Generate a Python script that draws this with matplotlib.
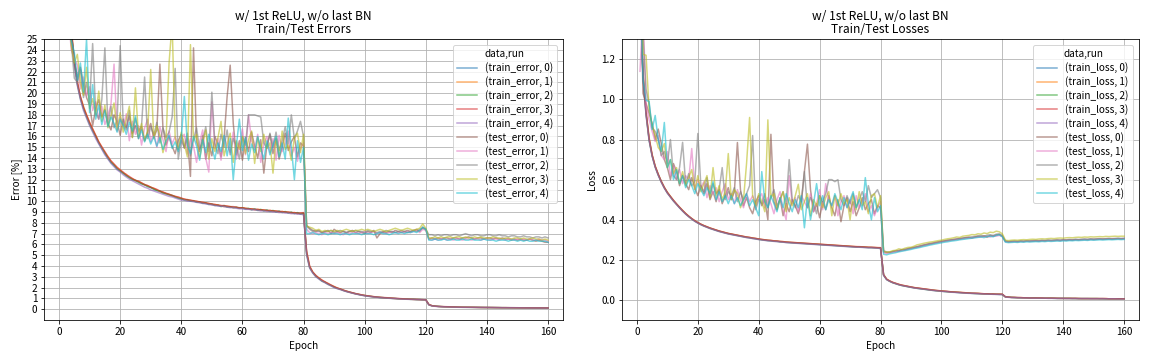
import numpy as np
import matplotlib
matplotlib.use("Agg")
import matplotlib.pyplot as plt

plt.rcParams["font.family"] = ["Noto Sans CJK JP", "DejaVu Sans"]

# ─── data (epochs 1..160) ───────────────────────────────────────────────────
epochs = np.arange(1, 161)
run_ids = [0, 1, 2, 3, 4]

train_error_0 = """
55.0 38.5 30.5 25.8 22.8 20.9 19.6 18.6 17.9 17.2
16.6 16.0 15.4 14.9 14.4 14.0 13.6 13.3 13.0 12.8
12.6 12.4 12.2 12.05 11.9 11.8 11.65 11.5 11.4 11.25
11.15 11.0 10.9 10.8 10.7 10.6 10.5 10.4 10.3 10.2
10.15 10.1 10.05 10.0 9.95 9.9 9.85 9.8 9.75 9.7
9.65 9.6 9.55 9.55 9.5 9.45 9.45 9.4 9.4 9.35
9.3 9.3 9.25 9.25 9.2 9.2 9.15 9.15 9.1 9.1
9.05 9.05 9.0 9.0 8.95 8.95 8.9 8.9 8.85 8.85
5.2 3.9 3.4 3.1 2.85 2.65 2.5 2.35 2.2 2.05
1.95 1.85 1.75 1.65 1.58 1.5 1.43 1.37 1.31 1.26
1.22 1.18 1.15 1.12 1.09 1.07 1.05 1.03 1.01 0.99
0.97 0.96 0.95 0.93 0.92 0.91 0.9 0.89 0.88 0.87
0.42 0.32 0.28 0.26 0.24 0.23 0.22 0.21 0.2 0.2
0.19 0.19 0.18 0.18 0.18 0.17 0.17 0.17 0.16 0.16
0.16 0.15 0.15 0.15 0.15 0.14 0.14 0.14 0.14 0.13
0.13 0.13 0.13 0.13 0.12 0.12 0.12 0.12 0.12 0.12
"""
train_error_1 = """
56.2 38.9 30.8 26.1 23.0 21.1 19.7 18.8 18.0 17.3
16.7 16.1 15.5 15.0 14.5 14.1 13.7 13.4 13.1 12.9
12.6 12.5 12.2 12.1 11.9 11.85 11.7 11.5 11.45 11.3
11.2 11.05 10.9 10.85 10.7 10.65 10.5 10.45 10.35 10.25
10.2 10.1 10.1 10.0 10.0 9.9 9.9 9.85 9.8 9.7
9.7 9.65 9.6 9.5 9.55 9.5 9.4 9.45 9.35 9.4
9.35 9.3 9.3 9.2 9.25 9.2 9.2 9.1 9.15 9.1
9.1 9.0 9.05 9.0 9.0 8.9 8.95 8.85 8.9 8.85
5.3 3.95 3.45 3.1 2.9 2.7 2.5 2.4 2.2 2.1
1.95 1.88 1.76 1.68 1.58 1.52 1.44 1.38 1.32 1.27
1.24 1.18 1.16 1.12 1.1 1.06 1.06 1.02 1.02 0.98
0.98 0.95 0.96 0.93 0.93 0.9 0.91 0.88 0.89 0.86
0.43 0.33 0.28 0.26 0.25 0.23 0.22 0.21 0.21 0.2
0.19 0.19 0.19 0.18 0.18 0.17 0.17 0.16 0.16 0.16
0.16 0.15 0.15 0.15 0.14 0.15 0.14 0.14 0.13 0.13
0.13 0.13 0.12 0.13 0.12 0.12 0.12 0.12 0.11 0.12
"""
train_error_2 = """
54.5 38.2 30.3 25.7 22.9 20.8 19.5 18.6 17.8 17.1
16.5 16.0 15.4 14.9 14.5 14.0 13.6 13.35 13.0 12.8
12.6 12.35 12.2 12.0 11.95 11.75 11.6 11.55 11.35 11.3
11.1 11.0 10.95 10.75 10.7 10.6 10.55 10.4 10.3 10.25
10.1 10.15 10.0 10.05 9.9 9.95 9.8 9.85 9.7 9.75
9.6 9.65 9.5 9.6 9.45 9.5 9.4 9.45 9.35 9.4
9.3 9.35 9.2 9.3 9.15 9.25 9.1 9.2 9.05 9.15
9.0 9.1 8.95 9.05 8.9 9.0 8.85 8.95 8.8 8.9
5.1 3.85 3.4 3.05 2.85 2.6 2.5 2.3 2.2 2.05
1.93 1.86 1.74 1.66 1.57 1.51 1.42 1.37 1.3 1.27
1.21 1.19 1.14 1.12 1.08 1.08 1.04 1.03 1.0 1.0
0.96 0.97 0.94 0.94 0.91 0.92 0.89 0.9 0.87 0.88
0.41 0.32 0.29 0.25 0.24 0.23 0.21 0.21 0.2 0.19
0.19 0.18 0.18 0.18 0.17 0.17 0.17 0.16 0.16 0.16
0.15 0.15 0.15 0.15 0.14 0.14 0.14 0.14 0.13 0.13
0.13 0.13 0.13 0.12 0.12 0.12 0.12 0.12 0.12 0.11
"""
train_error_3 = """
55.5 38.7 30.6 26.0 23.0 21.0 19.7 18.7 18.0 17.3
16.7 16.1 15.5 15.05 14.6 14.15 13.75 13.45 13.15 12.9
12.7 12.45 12.3 12.1 11.95 11.85 11.7 11.55 11.45 11.3
11.2 11.1 10.95 10.85 10.75 10.65 10.55 10.45 10.4 10.3
10.2 10.15 10.1 10.05 10.0 9.95 9.9 9.85 9.8 9.75
9.7 9.65 9.6 9.6 9.55 9.5 9.5 9.45 9.4 9.4
9.35 9.3 9.3 9.25 9.25 9.2 9.2 9.15 9.15 9.1
9.1 9.05 9.05 9.0 9.0 8.95 8.95 8.9 8.9 8.95
5.4 4.0 3.45 3.15 2.9 2.7 2.55 2.38 2.25 2.1
1.98 1.88 1.78 1.68 1.6 1.53 1.45 1.39 1.33 1.28
1.24 1.2 1.17 1.13 1.11 1.08 1.06 1.04 1.02 1.0
0.99 0.97 0.96 0.94 0.93 0.92 0.91 0.9 0.89 0.88
0.44 0.33 0.29 0.26 0.25 0.23 0.22 0.22 0.21 0.2
0.2 0.19 0.19 0.18 0.18 0.18 0.17 0.17 0.17 0.16
0.16 0.16 0.15 0.15 0.15 0.15 0.14 0.14 0.14 0.14
0.13 0.13 0.13 0.13 0.13 0.12 0.12 0.12 0.12 0.12
"""
train_error_4 = """
54.8 38.0 30.1 25.5 22.6 20.7 19.4 18.4 17.7 17.0
16.4 15.8 15.3 14.8 14.3 13.9 13.5 13.2 12.9 12.7
12.45 12.25 12.05 11.9 11.75 11.6 11.45 11.3 11.2 11.05
10.95 10.85 10.75 10.65 10.55 10.45 10.4 10.3 10.2 10.1
10.1 10.0 10.0 9.95 9.9 9.85 9.8 9.75 9.7 9.65
9.6 9.55 9.55 9.5 9.45 9.4 9.4 9.35 9.3 9.3
9.25 9.25 9.2 9.2 9.15 9.1 9.1 9.05 9.05 9.0
9.0 8.95 8.95 8.9 8.9 8.85 8.85 8.8 8.8 8.75
5.0 3.8 3.35 3.0 2.8 2.6 2.45 2.3 2.15 2.0
1.9 1.82 1.72 1.63 1.55 1.48 1.41 1.35 1.29 1.24
1.2 1.16 1.13 1.1 1.08 1.05 1.03 1.01 0.99 0.98
0.96 0.94 0.93 0.92 0.9 0.89 0.88 0.87 0.87 0.86
0.4 0.31 0.27 0.25 0.23 0.22 0.21 0.2 0.2 0.19
0.18 0.18 0.18 0.17 0.17 0.17 0.16 0.16 0.16 0.15
0.15 0.15 0.15 0.14 0.14 0.14 0.14 0.13 0.13 0.13
0.13 0.12 0.12 0.12 0.12 0.12 0.11 0.11 0.11 0.11
"""

test_error_0 = """
46.0 34.5 28.0 25.5 23.0 21.5 22.4 20.8 19.6 18.9
17.0 18.6 19.4 17.8 18.5 17.2 16.6 18.0 17.4 16.1
17.6 16.8 17.9 16.3 17.0 15.8 16.9 15.6 16.4 17.2
15.9 16.6 22.7 16.8 15.2 16.0 15.1 14.4 15.6 16.2
14.9 15.8 12.3 24.2 15.5 14.6 16.1 13.9 15.4 14.2
16.0 15.3 14.1 15.8 19.7 22.6 17.2 14.3 15.6 13.8
15.9 14.6 16.4 15.1 14.0 15.7 12.6 15.2 16.2 14.4
15.8 13.9 15.0 16.3 14.7 15.5 16.0 14.1 15.4 15.1
7.7 7.5 7.3 7.2 7.3 7.1 7.2 7.3 7.0 7.4
7.2 7.1 7.2 7.1 7.2 7.3 7.1 7.2 7.1 7.0
7.2 7.1 7.3 6.6 7.0 7.2 7.1 7.2 7.1 7.3
7.2 7.1 7.2 7.3 7.2 7.3 7.4 7.2 7.6 7.4
6.5 6.6 6.5 6.6 6.5 6.6 6.6 6.5 6.6 6.6
6.5 6.6 6.6 6.7 6.6 6.5 6.6 6.6 6.5 6.6
6.6 6.5 6.6 6.5 6.6 6.5 6.5 6.4 6.5 6.4
6.5 6.4 6.4 6.5 6.4 6.3 6.4 6.3 6.2 6.2
"""
test_error_1 = """
44.0 33.0 27.5 24.0 23.2 22.6 20.4 21.5 19.8 20.6
18.4 19.2 17.6 18.8 17.1 17.9 19.0 22.7 16.5 17.8
16.9 18.1 15.6 17.4 16.2 17.0 15.2 16.8 17.6 15.5
16.4 15.0 16.9 15.7 14.6 16.5 15.3 16.0 14.8 15.9
16.2 14.4 15.8 15.1 13.6 15.5 16.6 14.0 12.7 19.2
14.9 15.8 13.8 16.0 15.2 14.5 16.4 13.9 15.1 16.7
14.3 18.0 15.6 14.8 16.2 13.6 15.3 16.0 14.5 15.8
13.8 16.1 14.6 15.3 16.5 14.2 15.0 13.7 14.9 15.4
7.4 7.1 7.0 7.1 7.0 6.9 7.1 7.0 7.1 7.0
7.1 7.0 6.9 7.1 7.0 7.1 7.1 7.0 7.1 7.2
7.0 7.1 7.2 7.0 7.1 7.1 7.0 7.1 7.2 7.1
7.1 7.2 7.1 7.2 7.1 7.2 7.3 7.1 7.4 7.3
6.5 6.4 6.5 6.4 6.5 6.5 6.4 6.5 6.4 6.5
6.5 6.4 6.5 6.5 6.4 6.5 6.5 6.4 6.5 6.5
6.4 6.5 6.5 6.4 6.5 6.4 6.5 6.5 6.4 6.5
6.4 6.5 6.4 6.5 6.4 6.4 6.5 6.4 6.4 6.3
"""
test_error_2 = """
47.0 35.0 29.0 24.8 21.4 21.0 22.2 19.6 21.0 19.0
24.6 18.2 17.6 19.4 24.2 17.0 18.8 16.8 17.5 24.4
17.2 16.6 18.4 15.9 17.7 16.5 17.0 21.5 15.8 16.9
16.1 17.3 15.4 16.8 15.9 16.4 17.8 22.3 13.9 15.6
15.0 16.3 14.2 15.7 16.8 14.8 15.5 16.9 14.6 20.1
15.3 14.4 16.2 15.0 16.6 14.3 15.8 15.1 13.9 16.0
15.2 18.0 18.0 18.0 17.9 17.8 15.4 14.9 16.3 15.0
16.4 14.7 15.6 16.9 15.3 18.0 15.8 16.5 17.4 16.0
7.8 7.4 7.2 7.3 7.2 7.1 7.2 7.2 7.3 7.1
7.2 7.3 7.2 7.1 7.2 7.2 7.3 7.2 7.2 7.1
7.3 7.2 7.2 7.1 7.2 7.1 7.3 7.2 7.2 7.1
7.2 7.3 7.2 7.1 7.2 7.3 7.2 7.4 7.5 7.4
6.9 6.9 6.8 6.9 6.8 6.9 6.9 6.8 6.9 6.9
6.8 6.9 7.0 6.9 6.8 6.9 6.9 6.8 6.8 6.9
6.9 6.8 6.8 6.9 6.8 6.8 6.7 6.8 6.8 6.7
6.7 6.8 6.7 6.7 6.6 6.7 6.7 6.6 6.7 6.6
"""
test_error_3 = """
45.0 34.0 28.5 24.4 22.8 23.6 21.0 19.8 22.4 18.6
19.5 18.0 20.2 17.4 18.9 16.8 17.9 19.1 16.6 18.2
16.4 17.6 18.8 15.9 20.5 16.0 17.2 15.6 16.5 22.2
15.8 17.0 16.1 14.5 15.6 22.8 26.5 15.9 14.8 16.4
15.3 14.1 24.5 15.6 16.2 14.0 15.4 16.6 13.9 15.8
14.6 15.9 17.4 14.2 15.3 16.3 13.6 15.6 14.8 16.0
14.4 15.7 16.5 13.5 15.9 14.6 16.2 14.9 15.4 12.6
15.8 14.3 16.5 14.8 15.2 13.8 15.9 16.3 14.5 16.2
7.7 7.6 7.5 7.3 7.4 7.2 7.3 7.2 7.3 7.2
7.3 7.2 7.3 7.4 7.3 7.2 7.3 7.3 7.4 7.3
7.4 7.3 7.2 7.3 7.4 7.3 7.2 7.3 7.4 7.5
7.4 7.3 7.4 7.5 7.4 7.3 7.4 7.5 7.9 7.5
6.6 6.6 6.7 6.6 6.7 6.6 6.7 6.7 6.6 6.7
6.7 6.6 6.7 6.6 6.6 6.7 6.6 6.7 6.6 6.6
6.6 6.7 6.6 6.6 6.5 6.6 6.6 6.5 6.6 6.6
6.5 6.6 6.5 6.5 6.6 6.5 6.5 6.4 6.5 6.4
"""
test_error_4 = """
43.0 32.0 27.0 24.9 23.8 21.2 22.8 20.1 25.0 18.2
20.8 17.6 18.9 17.1 18.4 16.9 17.8 17.2 16.4 17.6
17.0 16.2 17.3 16.5 17.9 15.8 16.6 15.5 16.2 15.3
16.0 15.1 15.9 14.8 15.6 16.1 14.9 15.5 14.6 15.8
19.7 15.2 14.4 16.0 15.1 13.8 15.7 14.5 16.2 15.0
13.9 15.4 14.6 16.1 14.2 15.8 12.0 15.1 17.6 14.7
15.9 13.8 15.3 14.5 16.0 14.9 13.9 15.6 14.3 15.2
16.0 14.1 15.4 13.9 17.7 15.0 12.0 15.6 13.6 15.0
7.0 7.0 7.1 7.0 6.9 7.0 7.0 6.9 7.0 7.0
7.0 6.9 7.0 7.0 6.9 7.0 7.0 7.0 6.9 7.0
7.0 7.0 6.9 7.0 7.1 7.0 7.0 6.9 7.0 7.1
7.0 7.1 7.0 7.1 7.1 7.2 7.1 7.3 7.6 7.4
6.4 6.4 6.5 6.4 6.4 6.5 6.4 6.4 6.5 6.4
6.4 6.5 6.4 6.4 6.5 6.4 6.4 6.4 6.5 6.4
6.4 6.4 6.3 6.4 6.4 6.4 6.3 6.4 6.4 6.3
6.4 6.3 6.4 6.3 6.3 6.4 6.3 6.3 6.3 6.2
"""

train_loss_0 = """
1.55 1.12 0.93 0.80 0.72 0.665 0.625 0.59 0.56 0.535
0.515 0.495 0.478 0.461 0.445 0.430 0.417 0.405 0.394 0.385
0.377 0.370 0.364 0.358 0.353 0.348 0.343 0.339 0.335 0.331
0.328 0.325 0.322 0.319 0.316 0.313 0.311 0.308 0.306 0.303
0.301 0.299 0.297 0.296 0.294 0.293 0.291 0.290 0.288 0.287
0.286 0.285 0.284 0.283 0.282 0.281 0.280 0.279 0.278 0.277
0.276 0.275 0.274 0.273 0.272 0.271 0.270 0.269 0.268 0.267
0.266 0.265 0.265 0.264 0.263 0.262 0.262 0.261 0.260 0.259
0.125 0.103 0.094 0.087 0.082 0.077 0.073 0.070 0.067 0.064
0.061 0.059 0.057 0.055 0.053 0.051 0.049 0.047 0.046 0.044
0.043 0.042 0.040 0.039 0.038 0.037 0.036 0.035 0.034 0.033
0.033 0.032 0.031 0.031 0.030 0.030 0.029 0.029 0.028 0.028
0.016 0.014 0.013 0.012 0.012 0.011 0.011 0.011 0.010 0.010
0.010 0.010 0.009 0.009 0.009 0.009 0.009 0.008 0.008 0.008
0.008 0.008 0.008 0.008 0.007 0.007 0.007 0.007 0.007 0.007
0.007 0.007 0.007 0.006 0.006 0.006 0.006 0.006 0.006 0.006
"""
train_loss_1 = """
1.58 1.13 0.94 0.81 0.725 0.668 0.627 0.592 0.562 0.537
0.517 0.497 0.479 0.463 0.447 0.432 0.418 0.406 0.396 0.386
0.378 0.371 0.365 0.359 0.354 0.349 0.344 0.340 0.336 0.332
0.329 0.326 0.323 0.320 0.317 0.314 0.312 0.309 0.307 0.304
0.302 0.300 0.298 0.297 0.295 0.294 0.292 0.291 0.289 0.288
0.287 0.286 0.285 0.284 0.283 0.282 0.281 0.280 0.279 0.278
0.277 0.276 0.275 0.274 0.273 0.272 0.271 0.270 0.269 0.268
0.267 0.266 0.265 0.265 0.264 0.263 0.262 0.262 0.261 0.260
0.127 0.104 0.095 0.088 0.083 0.078 0.074 0.071 0.068 0.065
0.062 0.060 0.058 0.056 0.054 0.052 0.050 0.048 0.046 0.045
0.044 0.042 0.041 0.040 0.039 0.038 0.037 0.036 0.035 0.034
0.033 0.033 0.032 0.031 0.031 0.030 0.030 0.029 0.029 0.028
0.016 0.014 0.013 0.013 0.012 0.012 0.011 0.011 0.011 0.010
0.010 0.010 0.010 0.009 0.009 0.009 0.009 0.009 0.008 0.008
0.008 0.008 0.008 0.008 0.008 0.007 0.007 0.007 0.007 0.007
0.007 0.007 0.007 0.007 0.006 0.006 0.006 0.006 0.006 0.006
"""
train_loss_2 = """
1.54 1.11 0.925 0.797 0.718 0.663 0.623 0.589 0.559 0.534
0.514 0.494 0.477 0.460 0.444 0.429 0.416 0.404 0.393 0.384
0.376 0.369 0.363 0.357 0.352 0.347 0.342 0.338 0.334 0.330
0.327 0.324 0.321 0.318 0.315 0.312 0.310 0.307 0.305 0.302
0.300 0.298 0.296 0.295 0.293 0.292 0.290 0.289 0.287 0.286
0.285 0.284 0.283 0.282 0.281 0.280 0.279 0.278 0.277 0.276
0.275 0.274 0.273 0.272 0.271 0.270 0.269 0.268 0.267 0.266
0.265 0.264 0.264 0.263 0.262 0.261 0.261 0.260 0.259 0.258
0.124 0.102 0.093 0.086 0.081 0.076 0.072 0.069 0.066 0.063
0.061 0.058 0.056 0.054 0.052 0.050 0.048 0.047 0.045 0.044
0.042 0.041 0.040 0.039 0.038 0.037 0.036 0.035 0.034 0.033
0.032 0.032 0.031 0.030 0.030 0.029 0.029 0.028 0.028 0.027
0.015 0.014 0.013 0.012 0.011 0.011 0.011 0.010 0.010 0.010
0.010 0.009 0.009 0.009 0.009 0.009 0.008 0.008 0.008 0.008
0.008 0.008 0.007 0.007 0.007 0.007 0.007 0.007 0.007 0.007
0.007 0.006 0.006 0.006 0.006 0.006 0.006 0.006 0.006 0.006
"""
train_loss_3 = """
1.57 1.13 0.935 0.805 0.723 0.667 0.627 0.591 0.561 0.536
0.516 0.497 0.479 0.462 0.446 0.431 0.418 0.406 0.395 0.386
0.378 0.371 0.365 0.359 0.354 0.349 0.344 0.340 0.336 0.332
0.329 0.326 0.323 0.320 0.317 0.314 0.312 0.309 0.307 0.304
0.302 0.300 0.298 0.297 0.295 0.294 0.292 0.291 0.289 0.288
0.287 0.286 0.285 0.284 0.283 0.282 0.281 0.280 0.279 0.278
0.277 0.276 0.275 0.274 0.273 0.272 0.271 0.270 0.269 0.268
0.267 0.266 0.266 0.265 0.264 0.263 0.263 0.262 0.261 0.261
0.126 0.104 0.095 0.088 0.083 0.078 0.074 0.071 0.068 0.065
0.062 0.060 0.058 0.056 0.054 0.052 0.050 0.048 0.047 0.045
0.044 0.043 0.041 0.040 0.039 0.038 0.037 0.036 0.035 0.034
0.034 0.033 0.032 0.031 0.031 0.030 0.030 0.029 0.029 0.029
0.016 0.015 0.013 0.013 0.012 0.012 0.011 0.011 0.010 0.010
0.010 0.010 0.010 0.009 0.009 0.009 0.009 0.008 0.008 0.008
0.008 0.008 0.008 0.008 0.007 0.007 0.007 0.007 0.007 0.007
0.007 0.007 0.007 0.007 0.006 0.006 0.006 0.006 0.006 0.006
"""
train_loss_4 = """
1.53 1.10 0.92 0.795 0.716 0.661 0.621 0.587 0.557 0.532
0.512 0.493 0.476 0.459 0.443 0.428 0.415 0.403 0.392 0.383
0.375 0.368 0.362 0.356 0.351 0.346 0.341 0.337 0.333 0.329
0.326 0.323 0.320 0.317 0.314 0.311 0.309 0.306 0.304 0.301
0.299 0.297 0.295 0.294 0.292 0.291 0.289 0.288 0.286 0.285
0.284 0.283 0.282 0.281 0.280 0.279 0.278 0.277 0.276 0.275
0.274 0.273 0.272 0.271 0.270 0.269 0.268 0.267 0.266 0.265
0.264 0.263 0.263 0.262 0.261 0.260 0.260 0.259 0.258 0.257
0.123 0.101 0.093 0.086 0.081 0.076 0.072 0.069 0.066 0.063
0.060 0.058 0.056 0.054 0.052 0.050 0.048 0.046 0.045 0.043
0.042 0.041 0.039 0.038 0.037 0.036 0.035 0.034 0.033 0.033
0.032 0.031 0.031 0.030 0.029 0.029 0.028 0.028 0.027 0.027
0.015 0.013 0.012 0.012 0.011 0.011 0.010 0.010 0.010 0.009
0.009 0.009 0.009 0.009 0.008 0.008 0.008 0.008 0.008 0.008
0.007 0.007 0.007 0.007 0.007 0.007 0.007 0.007 0.006 0.006
0.006 0.006 0.006 0.006 0.006 0.006 0.006 0.005 0.005 0.005
"""

test_loss_0 = """
1.70 1.03 0.98 0.93 0.88 0.80 0.852 0.78 0.70 0.66
0.60 0.68 0.64 0.57 0.62 0.58 0.55 0.61 0.56 0.52
0.57 0.53 0.58 0.50 0.54 0.49 0.55 0.48 0.52 0.56
0.50 0.54 0.785 0.55 0.47 0.51 0.46 0.43 0.49 0.52
0.47 0.50 0.40 0.826 0.49 0.45 0.51 0.42 0.48 0.44
0.50 0.47 0.43 0.49 0.64 0.777 0.55 0.44 0.48 0.41
0.49 0.45 0.52 0.46 0.42 0.50 0.39 0.47 0.51 0.44
0.49 0.42 0.46 0.51 0.45 0.48 0.50 0.43 0.47 0.46
0.240 0.236 0.238 0.241 0.244 0.247 0.251 0.250 0.256 0.260
0.262 0.266 0.270 0.274 0.277 0.281 0.283 0.287 0.290 0.293
0.295 0.298 0.300 0.302 0.304 0.306 0.308 0.311 0.312 0.309
0.314 0.318 0.316 0.320 0.313 0.322 0.318 0.324 0.326 0.318
0.293 0.290 0.291 0.292 0.291 0.293 0.292 0.294 0.293 0.294
0.295 0.294 0.296 0.295 0.297 0.296 0.297 0.298 0.297 0.299
0.298 0.300 0.299 0.301 0.300 0.301 0.302 0.301 0.303 0.302
0.303 0.304 0.303 0.304 0.305 0.304 0.305 0.306 0.305 0.306
"""
test_loss_1 = """
1.14 1.45 0.97 0.90 0.84 0.79 0.82 0.72 0.70 0.74
0.62 0.67 0.60 0.65 0.58 0.62 0.60 0.755 0.55 0.60
0.56 0.59 0.51 0.57 0.53 0.56 0.49 0.54 0.58 0.50
0.53 0.48 0.55 0.50 0.46 0.53 0.49 0.52 0.47 0.51
0.53 0.46 0.51 0.48 0.43 0.50 0.54 0.45 0.40 0.62
0.48 0.51 0.44 0.52 0.49 0.46 0.53 0.44 0.48 0.55
0.45 0.58 0.50 0.47 0.52 0.42 0.49 0.52 0.46 0.50
0.43 0.52 0.46 0.49 0.53 0.44 0.47 0.42 0.46 0.49
0.236 0.232 0.235 0.238 0.240 0.244 0.246 0.249 0.252 0.256
0.259 0.262 0.266 0.270 0.273 0.277 0.280 0.284 0.286 0.290
0.292 0.294 0.297 0.299 0.301 0.303 0.305 0.307 0.309 0.310
0.312 0.313 0.315 0.316 0.318 0.314 0.320 0.318 0.322 0.316
0.291 0.289 0.290 0.291 0.290 0.292 0.291 0.293 0.292 0.293
0.294 0.293 0.295 0.294 0.296 0.295 0.296 0.297 0.296 0.298
0.297 0.299 0.298 0.300 0.299 0.300 0.301 0.300 0.302 0.301
0.302 0.303 0.302 0.303 0.304 0.303 0.304 0.305 0.304 0.305
"""
test_loss_2 = """
1.75 1.32 1.05 0.978 0.86 0.84 0.80 0.72 0.74 0.68
0.80 0.62 0.60 0.66 0.786 0.58 0.63 0.57 0.59 0.83
0.57 0.54 0.61 0.51 0.58 0.53 0.55 0.66 0.50 0.54
0.52 0.56 0.49 0.54 0.50 0.53 0.57 0.82 0.45 0.50
0.48 0.53 0.46 0.51 0.55 0.47 0.50 0.54 0.48 0.70
0.50 0.46 0.52 0.49 0.64 0.46 0.51 0.48 0.43 0.52
0.49 0.53 0.60 0.60 0.59 0.60 0.50 0.47 0.52 0.48
0.53 0.46 0.50 0.54 0.49 0.57 0.51 0.53 0.55 0.51
0.245 0.240 0.238 0.242 0.246 0.244 0.250 0.253 0.255 0.258
0.262 0.265 0.268 0.272 0.276 0.279 0.282 0.285 0.288 0.291
0.294 0.297 0.299 0.301 0.304 0.306 0.309 0.311 0.313 0.315
0.317 0.319 0.321 0.318 0.323 0.325 0.322 0.328 0.330 0.322
0.294 0.292 0.293 0.294 0.293 0.295 0.294 0.296 0.295 0.296
0.297 0.296 0.298 0.297 0.299 0.298 0.299 0.300 0.299 0.301
0.300 0.302 0.301 0.303 0.302 0.303 0.304 0.303 0.305 0.304
0.305 0.306 0.305 0.306 0.307 0.306 0.307 0.308 0.307 0.308
"""
test_loss_3 = """
1.80 1.225 1.22 0.95 0.87 0.82 0.76 0.74 0.78 0.66
0.70 0.63 0.66 0.58 0.64 0.57 0.61 0.65 0.55 0.62
0.54 0.58 0.62 0.51 0.66 0.52 0.57 0.50 0.54 0.73
0.50 0.55 0.53 0.46 0.50 0.68 0.91 0.52 0.47 0.53
0.49 0.44 0.898 0.51 0.53 0.45 0.50 0.54 0.44 0.51
0.47 0.52 0.577 0.45 0.49 0.53 0.42 0.50 0.47 0.52
0.46 0.51 0.54 0.42 0.52 0.47 0.53 0.48 0.50 0.40
0.52 0.45 0.54 0.47 0.49 0.43 0.52 0.53 0.46 0.52
0.243 0.238 0.240 0.246 0.248 0.255 0.252 0.258 0.262 0.263
0.268 0.275 0.278 0.282 0.285 0.288 0.290 0.293 0.296 0.298
0.302 0.305 0.307 0.310 0.314 0.312 0.318 0.320 0.322 0.326
0.325 0.330 0.328 0.334 0.331 0.338 0.336 0.343 0.340 0.330
0.298 0.296 0.298 0.299 0.298 0.300 0.301 0.300 0.302 0.303
0.302 0.304 0.305 0.304 0.306 0.307 0.306 0.308 0.309 0.308
0.310 0.311 0.310 0.312 0.313 0.312 0.314 0.313 0.315 0.314
0.315 0.316 0.315 0.317 0.316 0.317 0.318 0.317 0.318 0.318
"""
test_loss_4 = """
1.60 1.10 0.995 0.99 0.85 0.92 0.80 0.74 0.885 0.66
0.70 0.60 0.65 0.58 0.62 0.56 0.60 0.57 0.53 0.58
0.55 0.52 0.56 0.53 0.59 0.50 0.54 0.49 0.52 0.48
0.52 0.48 0.51 0.47 0.50 0.53 0.47 0.50 0.46 0.42
0.64 0.49 0.46 0.52 0.48 0.44 0.51 0.46 0.53 0.48
0.44 0.50 0.46 0.52 0.36 0.51 0.40 0.48 0.58 0.47
0.52 0.45 0.50 0.47 0.53 0.49 0.45 0.51 0.46 0.50
0.54 0.46 0.50 0.45 0.61 0.48 0.40 0.51 0.44 0.47
0.228 0.225 0.230 0.233 0.236 0.240 0.243 0.246 0.249 0.252
0.256 0.259 0.262 0.266 0.269 0.273 0.276 0.279 0.282 0.285
0.288 0.290 0.293 0.295 0.297 0.300 0.302 0.304 0.306 0.308
0.310 0.312 0.314 0.311 0.316 0.318 0.315 0.322 0.325 0.315
0.288 0.286 0.287 0.288 0.287 0.289 0.288 0.290 0.289 0.290
0.291 0.290 0.292 0.291 0.293 0.292 0.293 0.294 0.293 0.295
0.294 0.296 0.295 0.297 0.296 0.297 0.298 0.297 0.299 0.298
0.299 0.300 0.299 0.300 0.301 0.300 0.301 0.302 0.301 0.302
"""

train_errors = [train_error_0, train_error_1, train_error_2, train_error_3, train_error_4]
test_errors = [test_error_0, test_error_1, test_error_2, test_error_3, test_error_4]
train_losses = [train_loss_0, train_loss_1, train_loss_2, train_loss_3, train_loss_4]
test_losses = [test_loss_0, test_loss_1, test_loss_2, test_loss_3, test_loss_4]

TITLE = "w/ 1st ReLU, w/o last BN"


def as_array(block):
    return np.array(block.split(), dtype=float)


def draw(ax, train, test, train_name, test_name):
    colors = plt.rcParams["axes.prop_cycle"].by_key()["color"]
    for i, run in enumerate(run_ids):
        ax.plot(epochs, as_array(train[i]), color=colors[i], lw=1.5, alpha=0.6,
                label=f"({train_name}, {run})")
    for i, run in enumerate(run_ids):
        ax.plot(epochs, as_array(test[i]), color=colors[5 + i], lw=1.5, alpha=0.6,
                label=f"({test_name}, {run})")
    ax.set_xlim(-4.8, 164.8)
    ax.set_xticks(range(0, 161, 20))
    ax.set_xlabel("Epoch", fontsize=10)
    ax.tick_params(labelsize=10)
    leg = ax.legend(title="data,run", loc="upper right", fontsize=10,
                    title_fontsize=10, handlelength=2.0, labelspacing=0.3,
                    borderaxespad=0.6)
    leg.set_zorder(5)


fig = plt.figure(figsize=(16, 5), dpi=72)
ax1 = fig.add_axes([0.0385, 0.111, 0.450, 0.780])
ax2 = fig.add_axes([0.5402, 0.111, 0.4483, 0.780])

# errors
ax1.grid(True, which="major", color="#b0b0b0", lw=0.8)
ax1.grid(True, which="minor", color="#808080", lw=1.2)
ax1.set_axisbelow(True)
draw(ax1, train_errors, test_errors, "train_error", "test_error")
ax1.set_ylim(-1, 25)
ax1.set_yticks(range(0, 26))
ax1.set_xticks([0, 40, 80, 120, 160], minor=True)
ax1.set_yticks([0, 5, 10, 15, 20], minor=True)
ax1.tick_params(which="minor", length=0)
ax1.set_ylabel("Error [%]", fontsize=10)
ax1.set_title(TITLE + "\nTrain/Test Errors", fontsize=12, linespacing=1.05)

# losses
ax2.grid(True, color="#b0b0b0", lw=0.8)
ax2.set_axisbelow(True)
draw(ax2, train_losses, test_losses, "train_loss", "test_loss")
ax2.set_ylim(-0.1, 1.3)
ax2.set_yticks([0.0, 0.2, 0.4, 0.6, 0.8, 1.0, 1.2])
ax2.set_ylabel("Loss", fontsize=10)
ax2.set_title(TITLE + "\nTrain/Test Losses", fontsize=12, linespacing=1.05)

fig.savefig("out.png", dpi=72)
